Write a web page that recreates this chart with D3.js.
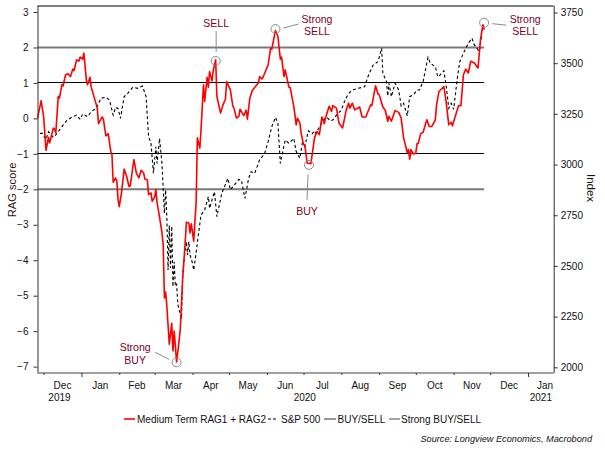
<!DOCTYPE html>
<html><head><meta charset="utf-8">
<script src="https://cdn.jsdelivr.net/npm/d3@7"></script>
<style>html,body{margin:0;padding:0;background:#fff}svg{display:block}text{font-family:"Liberation Sans",Arial,sans-serif;font-size:10px;fill:#111}</style>
</head><body><div id="c"></div>
<script>
// days since 2019-12-01
const ragDays=[-5,-2,0,2,4,5,8,9,10,12,13,15,16,18,20,22,24,25,27,29,30,32,33,35,36,38,39,42,44,45,48,49,51,53,55,56,57,59,60,61,62,64,66,68,70,71,74,76,78,80,82,83,85,86,88,89,91,92,93,95,97,98,99,100,101,103,105,106,107,109,111,112,114,116,117,119,120,121,123,124,125,126,128,129,131,132,134,135,136,138,139,141,142,145,147,149,150,153,155,156,158,160,161,164,166,167,169,171,176,177,179,181,184,186,187,190,192,194,195,197,198,201,202,205,207,208,210,211,213,214,216,219,222,224,226,228,230,231,234,236,237,240,242,245,248,250,251,253,255,259,261,264,268,269,272,274,275,278,280,282,283,285,288,291,293,295,298,299,300,301,303,305,306,307,309,311,314,316,318,321,322,324,328,330,332,334,335,338,340,342,344,346,348,350,353,356,358,360,361];
const ragValues=[0,0.5,0.06,-0.9,-0.53,-0.69,-0.27,-0.3,-0.41,0.62,0.57,0.95,0.92,1.23,1.26,1.18,1.39,1.35,1.65,1.62,1.73,1.67,1.84,1.09,0.95,1.16,0.88,0.53,0.29,-0.15,0.04,-0.02,-0.49,-0.43,-0.93,-1.02,-1.8,-1.68,-1.77,-2.29,-2.49,-2.06,-1.43,-1.63,-1.92,-1.9,-1.16,-1.54,-1.68,-1.46,-1.54,-1.71,-1.73,-2.15,-2.1,-2.34,-2.22,-2.01,-2.38,-2.78,-3.23,-3.56,-5.06,-4.9,-5.3,-6.37,-5.78,-6.56,-6,-6.87,-6.28,-5.95,-4.5,-3.51,-2.93,-2.95,-3.23,-2.97,-3.46,-2.9,-2.38,-0.55,-0.84,-0.32,0.95,0.48,1.16,0.88,1.32,1.06,1.35,1.65,0.62,0.15,0.38,0.54,1.04,0.81,0.36,0.29,0.01,0.06,0.26,0.08,0.23,-0.02,0.57,0.79,1,1.18,1.11,1.26,1.51,1.98,1.95,2.48,2.31,1.67,1.73,1.18,1.37,0.88,0.88,0.34,-0.18,0.01,-0.13,-0.41,-0.74,-0.74,-1.26,-1.28,-0.55,-0.37,-0.46,0.04,-0.15,0.01,0.34,0.2,0.36,0.29,-0.13,-0.27,0.24,0.43,0.29,0.43,0.24,0.32,0.04,0.04,0.38,0.36,0.92,0.69,0.67,0.32,0.23,-0.08,0.06,-0.08,0.22,0.17,0.01,-0.55,-0.96,-0.88,-1.15,-0.88,-1,-0.98,-0.71,-0.71,-0.43,-0.39,-0.04,-0.23,-0.23,-0.04,0.38,0.76,0.9,0.43,-0.18,-0.11,-0.21,0.13,0.36,0.36,1.23,1.39,1.28,1.61,1.56,1.42,2.22,2.64,2.5];
const spxDays=[-3,-1,2,4,8,10,15,19,23,27,30,32,36,39,43,47,51,54,57,59,61,63,66,69,73,77,81,84,86,88,90,92,93,95,97,99,100,101,102,103,104,105,106,107,108,109,110,113,114,116,117,118,119,120,122,123,124,127,129,132,135,136,140,142,146,151,153,160,162,165,168,170,173,177,181,184,187,190,192,194,198,201,205,207,210,212,214,217,220,222,223,227,229,232,235,237,240,244,247,250,253,255,258,263,266,270,274,277,278,281,282,283,285,288,291,293,295,298,300,303,306,308,311,315,317,321,323,325,328,330,332,334,336,339,341,344,348,351,353,357,359];
const spxValues=[3154,3154,3124,3162,3134,3146,3187,3217,3233,3244,3223,3249,3236,3261,3277,3327,3332,3318,3244,3282,3277,3228,3335,3351,3381,3376,3387,3335,3138,3105,2957,3088,3006,3129,3006,2759,2875,2740,2480,2700,2490,2695,2398,2521,2400,2410,2310,2240,2463,2579,2620,2554,2620,2554,2514,2480,2521,2661,2751,2776,2842,2784,2866,2743,2858,2932,2875,2927,2924,2833,2932,2965,2957,3023,3052,3113,3187,3233,3203,3006,3121,3105,3129,3064,3031,3105,3088,3167,3151,3167,3154,3195,3220,3233,3216,3220,3244,3269,3318,3351,3368,3371,3376,3384,3437,3491,3507,3573,3450,3409,3338,3401,3335,3401,3368,3289,3302,3240,3335,3343,3368,3368,3409,3529,3499,3483,3433,3442,3463,3384,3277,3302,3272,3425,3507,3549,3598,3623,3590,3557,3639];
const leftTicks=[3,2,1,0,-1,-2,-3,-4,-5,-6,-7];
const rightTicks=[3750,3500,3250,3000,2750,2500,2250,2000];
const monthLabels=["Dec","Jan","Feb","Mar","Apr","May","Jun","Jul","Aug","Sep","Oct","Nov","Dec","Jan"];
const buySellLevels=[1,-1];
const strongLevels=[2,-2];
const noteDays=[141,190,361,217.5,109];
const noteValues=[1.62,2.52,2.7,-1.31,-6.88];
const noteLines=[["SELL"],["Strong","SELL"],["Strong","SELL"],["BUY"],["Strong","BUY"]];
const legendNames=["Medium Term RAG1 + RAG2","S&P 500","BUY/SELL","Strong BUY/SELL"];
const sourceText="Source: Longview Economics, Macrobond";

const W=605,H=454,L=37.5,R=553.7,T=6,B=373;
const base=Date.UTC(2019,11,1);
const day=d=>new Date(base+d*864e5);
const x=d3.scaleUtc().domain([day(-5),day(418)]).range([L,R]);
const yL=d3.scaleLinear().domain([-7.18,3.17]).range([B,T]);
const yR=d3.scaleLinear().domain([1972,3782]).range([B,T]);
const svg=d3.select("#c").append("svg").attr("width",W).attr("height",H);

// reference lines
const lastX=x(day(ragDays[ragDays.length-1]));
svg.selectAll(".s").data(strongLevels).join("line").attr("x1",L).attr("x2",lastX).attr("y1",yL).attr("y2",yL).attr("stroke","#7a7a7a").attr("stroke-width",2);
svg.selectAll(".b").data(buySellLevels).join("line").attr("x1",L).attr("x2",lastX).attr("y1",d=>Math.floor(yL(d))+0.5).attr("y2",d=>Math.floor(yL(d))+0.5).attr("stroke","#000").attr("stroke-width",1);

// series
const spxLine=d3.line().x((d,i)=>x(day(spxDays[i]))).y(d=>yR(d));
const ragLine=d3.line().x((d,i)=>x(day(ragDays[i]))).y(d=>yL(d));
svg.append("path").attr("d",spxLine(spxValues)).attr("fill","none").attr("stroke","#000").attr("stroke-width",1.1).attr("stroke-dasharray","3,2.5");
svg.append("path").attr("d",ragLine(ragValues)).attr("fill","none").attr("stroke","#ff0000").attr("stroke-width",1.6).attr("stroke-linejoin","round");

// frame
svg.append("line").attr("x1",L).attr("x2",R).attr("y1",T).attr("y2",T).attr("stroke","#000").attr("stroke-width",1);

// axes
const gl=svg.append("g").attr("transform",`translate(${L},0)`).call(d3.axisLeft(yL).tickValues(leftTicks).tickSize(4).tickPadding(5).tickFormat(d3.format("d")));
const gr=svg.append("g").attr("transform",`translate(${R},0)`).call(d3.axisRight(yR).tickValues(rightTicks).tickSize(4).tickPadding(3).tickFormat(d3.format("d")));
[gl,gr].forEach(g=>{g.select(".domain").attr("stroke","#333").attr("d",`M0.5,${T}V${B}`);g.selectAll("line").attr("stroke","#333");g.selectAll("text").style("font-size","10px").style("font-family","Liberation Sans").attr("fill","#111");});
const months=d3.utcMonth.range(new Date(Date.UTC(2019,11,1)),new Date(Date.UTC(2021,0,2)));
const gb=svg.append("g").attr("transform",`translate(0,${B})`).call(d3.axisBottom(x).tickValues(months).tickSize(2).tickFormat(""));
gb.select(".domain").attr("stroke","#808080").attr("stroke-width",1.5).attr("d",`M${L},0H${R}`);
gb.selectAll(".tick line").attr("stroke","#333").attr("y2",d=>d.getUTCMonth()===0?4:2);

// month and year labels
const mids=months.map((m,i)=>{const a=x(m),b=i<months.length-1?x(months[i+1]):R;return (a+b)/2;});
svg.selectAll(".m").data(monthLabels).join("text").attr("x",(d,i)=>i===monthLabels.length-1?545:mids[i]).attr("y",389).attr("text-anchor","middle").text(d=>d);
[["2019",(L+x(months[1]))/2],["2020",(x(months[1])+x(months[13]))/2],["2021",(x(months[13])+R)/2]].forEach(([t,p])=>svg.append("text").attr("x",p).attr("y",401).attr("text-anchor","middle").text(t));

// axis titles
svg.append("text").attr("transform","translate(16,190) rotate(-90)").attr("text-anchor","middle").style("fill","#2a1010").style("font-size","11.2px").text("RAG score");
svg.append("text").attr("transform","translate(587,188) rotate(90)").attr("text-anchor","middle").style("font-size","11.5px").text("Index");

// annotations
const leader=[[0.5,-30,0.5,-9],[8,-1,23,-5],[8,1,22,2.5],[-1,10,-2,35],[-21.5,-10,-7.5,-3]];
const noteText=[[0.5,-34],[41.5,-6],[41,0],[-2,50],[-41.5,-11]];
const noteG=svg.selectAll(".n").data(noteDays).join("g").attr("transform",(d,i)=>`translate(${x(day(d))},${yL(noteValues[i])})`);
noteG.append("circle").attr("r",4.5).attr("fill","none").attr("stroke","#8c8c8c").attr("stroke-width",1);
noteG.append("line").attr("x1",(d,i)=>leader[i][0]).attr("y1",(d,i)=>leader[i][1]).attr("x2",(d,i)=>leader[i][2]).attr("y2",(d,i)=>leader[i][3]).attr("stroke","#8c8c8c");
noteG.each(function(d,i){const t=d3.select(this).append("text").attr("text-anchor","middle").style("font-size","10.5px").style("fill","#7a0026");
  noteLines[i].forEach((s,j)=>t.append("tspan").attr("x",noteText[i][0]).attr("y",noteText[i][1]+j*12.3).text(s));});

// legend
const legY=419;
const legItems=[{x1:124,x2:135,c:"#ff0000",w:1.6,tx:137,dash:null},{x1:268,x2:278,c:"#000",w:1,tx:281,dash:"3,2"},{x1:324,x2:336,c:"#555",w:1.2,tx:337.5,dash:null},{x1:389,x2:400,c:"#666",w:1.2,tx:401,dash:null}];
legItems.forEach((it,i)=>{
  svg.append("line").attr("x1",it.x1).attr("x2",it.x2).attr("y1",legY).attr("y2",legY).attr("stroke",it.c).attr("stroke-width",it.w).attr("stroke-dasharray",it.dash);
  svg.append("text").attr("x",it.tx).attr("y",legY+3.5).text(legendNames[i]);
});
svg.append("text").attr("x",592).attr("y",442).attr("text-anchor","end").style("font-size","9.2px").style("font-style","italic").text(sourceText);
</script></body></html>
